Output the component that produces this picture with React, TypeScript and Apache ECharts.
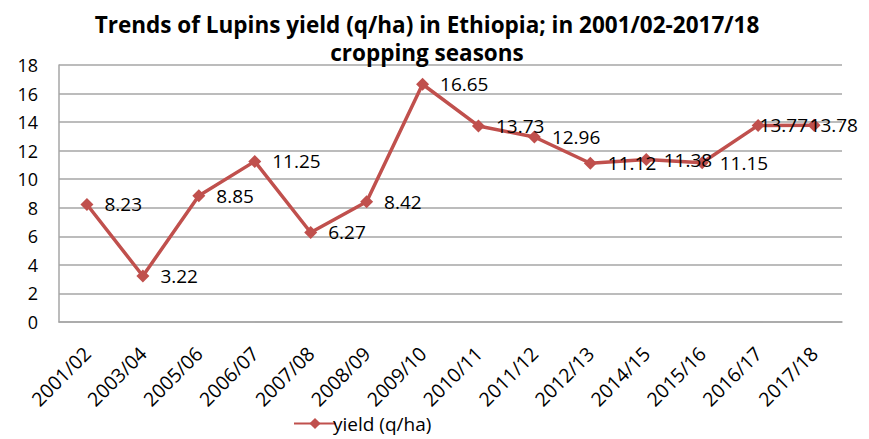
import React, { useEffect, useRef } from "react";
import * as echarts from "echarts";

const seasons = [
  "2001/02", "2003/04", "2005/06", "2006/07", "2007/08", "2008/09", "2009/10",
  "2010/11", "2011/12", "2012/13", "2014/15", "2015/16", "2016/17", "2017/18",
];
const yieldValues = [8.23, 3.22, 8.85, 11.25, 6.27, 8.42, 16.65, 13.73, 12.96, 11.12, 11.38, 11.15, 13.77, 13.78];
const seriesName = "yield (q/ha)";
const titleText = "Trends of Lupins yield (q/ha) in Ethiopia; in 2001/02-2017/18\ncropping seasons";

const FONT = "'Open Sans', Lato, sans-serif";
const RED = "#C0504D";

// The last two labels sit tighter to their points so they stay inside the frame
const labelOffsets: Record<number, [number, number]> = {
  12: [-16, 0],
  13: [-22, 0],
};

export default function App() {
  const ref = useRef<HTMLDivElement>(null);

  useEffect(() => {
    if (!ref.current) return;
    const chart = echarts.init(ref.current, undefined, { renderer: "svg" });
    const points = yieldValues.map((v, i) =>
      labelOffsets[i] ? { value: v, label: { offset: labelOffsets[i] } } : v
    );
    chart.setOption({
      animation: false,
      backgroundColor: "#ffffff",
      textStyle: { fontFamily: FONT },
      title: {
        text: titleText,
        left: 422,
        top: 5,
        textAlign: "center",
        textStyle: {
          fontFamily: FONT,
          fontWeight: "bold",
          fontSize: 22.5,
          lineHeight: 28,
          color: "#000000",
        },
        z: 10,
      },
      grid: { left: 59, right: 27, top: 65, bottom: 117, containLabel: false },
      legend: {
        data: [seriesName],
        bottom: 1,
        left: 288,
        itemWidth: 42,
        itemHeight: 14,
        itemGap: 0,
        textStyle: { fontFamily: FONT, fontSize: 19, color: "#000000", padding: [0, 0, 0, -8] },
      },
      xAxis: {
        type: "category",
        data: seasons,
        boundaryGap: true,
        axisLine: { lineStyle: { color: "#A6A6A6", width: 1.5 } },
        axisTick: { show: false },
        axisLabel: {
          rotate: 45,
          interval: 0,
          margin: 28,
          fontFamily: FONT,
          fontSize: 19.5,
          color: "#000000",
        },
      },
      yAxis: {
        type: "value",
        min: 0,
        max: 18,
        interval: 2,
        axisLine: { show: true, lineStyle: { color: "#A6A6A6", width: 1.5 } },
        axisTick: { show: false },
        splitLine: { lineStyle: { color: "#A6A6A6", width: 1.5 } },
        axisLabel: { margin: 21, fontFamily: FONT, fontSize: 18, color: "#000000" },
      },
      series: [
        {
          name: seriesName,
          type: "line",
          data: points,
          symbol: "diamond",
          symbolSize: 13,
          itemStyle: { color: RED },
          lineStyle: { color: RED, width: 3.5 },
          label: {
            show: true,
            position: "right",
            distance: 11,
            fontFamily: FONT,
            fontSize: 19,
            color: "#000000",
          },
        },
      ],
    });
    return () => chart.dispose();
  }, []);

  return <div ref={ref} style={{ width: 869, height: 439, position: "absolute", left: 0, top: 0 }} />;
}
